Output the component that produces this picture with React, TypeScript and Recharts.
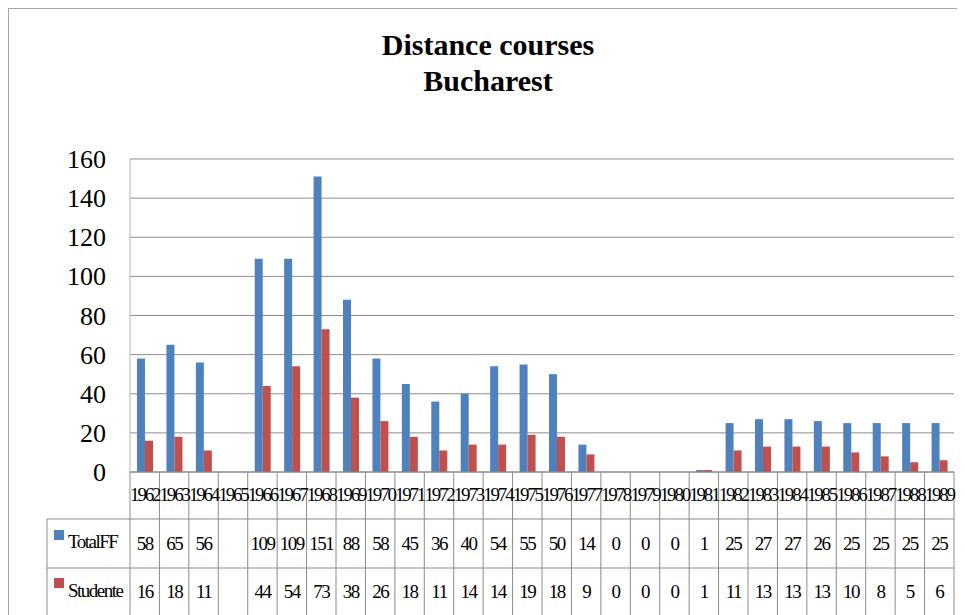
import { BarChart, Bar, XAxis, YAxis, CartesianGrid } from 'recharts'

const years = ['1962', '1963', '1964', '1965', '1966', '1967', '1968', '1969', '1970', '1971', '1972', '1973', '1974', '1975', '1976', '1977', '1978', '1979', '1980', '1981', '1982', '1983', '1984', '1985', '1986', '1987', '1988', '1989']
const totalFF = [58, 65, 56, null, 109, 109, 151, 88, 58, 45, 36, 40, 54, 55, 50, 14, 0, 0, 0, 1, 25, 27, 27, 26, 25, 25, 25, 25]
const studente = [16, 18, 11, null, 44, 54, 73, 38, 26, 18, 11, 14, 14, 19, 18, 9, 0, 0, 0, 1, 11, 13, 13, 13, 10, 8, 5, 6]
const yTicks = [0, 20, 40, 60, 80, 100, 120, 140, 160]

const W = 957
const H = 606
const TOP = 150
const LEFT = 121
const RIGHT = 12
const PLOT_H = 313
const AXIS_Y = TOP + PLOT_H
const ROW1 = 510
const ROW2 = 559
const LEGEND_X = 38
const BLUE = '#4F81BD'
const RED = '#C0504D'
const LINE = '#8c8c8c'
const FONT = '"Liberation Serif", "DejaVu Serif", serif'

const data = years.map((year, i) => ({ year, totalFF: totalFF[i], studente: studente[i] }))

function YTick({ x, y, payload }: any) {
  return (
    <text x={x - 16} y={y} dy="0.35em" textAnchor="end" fill="#000" style={{ fontFamily: FONT, fontSize: 26 }}>
      {payload.value}
    </text>
  )
}

function TableTick({ x, payload, index }: any) {
  const bw = (W - LEFT - RIGHT) / years.length
  const i = payload.index ?? index
  const t = totalFF[i]
  const s = studente[i]
  const cell = { fill: '#000', textAnchor: 'middle' as const, style: { fontFamily: FONT, fontSize: 19, letterSpacing: -1.5 } }
  const label = { fill: '#000', style: { fontFamily: FONT, fontSize: 19, letterSpacing: -1.5 } }
  return (
    <g>
      {i === 0 && (
        <g>
          <line x1={LEGEND_X} x2={W - RIGHT} y1={ROW1} y2={ROW1} stroke={LINE} />
          <line x1={LEGEND_X} x2={W - RIGHT} y1={ROW2} y2={ROW2} stroke={LINE} />
          <line x1={LEGEND_X} x2={LEGEND_X} y1={ROW1} y2={H} stroke={LINE} />
          <line x1={x - bw / 2} x2={x - bw / 2} y1={AXIS_Y} y2={H} stroke={LINE} />
          <rect x={45} y={521} width={10} height={10} fill={BLUE} />
          <text x={59} y={539} {...label}>TotalFF</text>
          <rect x={45} y={569} width={10} height={10} fill={RED} />
          <text x={59} y={588} {...label}>Studente</text>
        </g>
      )}
      <line x1={x + bw / 2} x2={x + bw / 2} y1={AXIS_Y} y2={H} stroke={LINE} />
      <text x={x} y={492} fill="#000" textAnchor="middle" style={{ fontFamily: FONT, fontSize: 19, letterSpacing: -2.2 }}>{payload.value}</text>
      <text x={x} y={541} {...cell}>{t == null ? '' : t}</text>
      <text x={x} y={589} {...cell}>{s == null ? '' : s}</text>
    </g>
  )
}

export default function App() {
  return (
    <div style={{ position: 'relative', width: W, height: H, borderLeft: '1px solid #a6a6a6', borderTop: '1px solid #a6a6a6', overflow: 'hidden', background: '#fff' }}>
      <div style={{ position: 'absolute', left: 0, top: 18, width: 958, textAlign: 'center', fontFamily: FONT, fontWeight: 'bold', fontSize: 30, lineHeight: '36px', color: '#000' }}>
        Distance courses
        <br />
        Bucharest
      </div>
      <BarChart width={W} height={H} data={data} margin={{ top: TOP, right: RIGHT, bottom: 0, left: 0 }} barGap={0} barSize={8}>
        <CartesianGrid vertical={false} stroke={LINE} />
        <YAxis
          width={LEFT}
          domain={[0, 160]}
          ticks={yTicks}
          tick={<YTick />}
          tickLine={false}
          axisLine={{ stroke: '#b5b5b5' }}
          interval={0}
        />
        <XAxis
          dataKey="year"
          height={H - AXIS_Y}
          tick={<TableTick />}
          tickLine={false}
          tickSize={0}
          axisLine={{ stroke: LINE }}
          interval={0}
        />
        <Bar dataKey="totalFF" fill={BLUE} isAnimationActive={false} />
        <Bar dataKey="studente" fill={RED} isAnimationActive={false} />
      </BarChart>
    </div>
  )
}
